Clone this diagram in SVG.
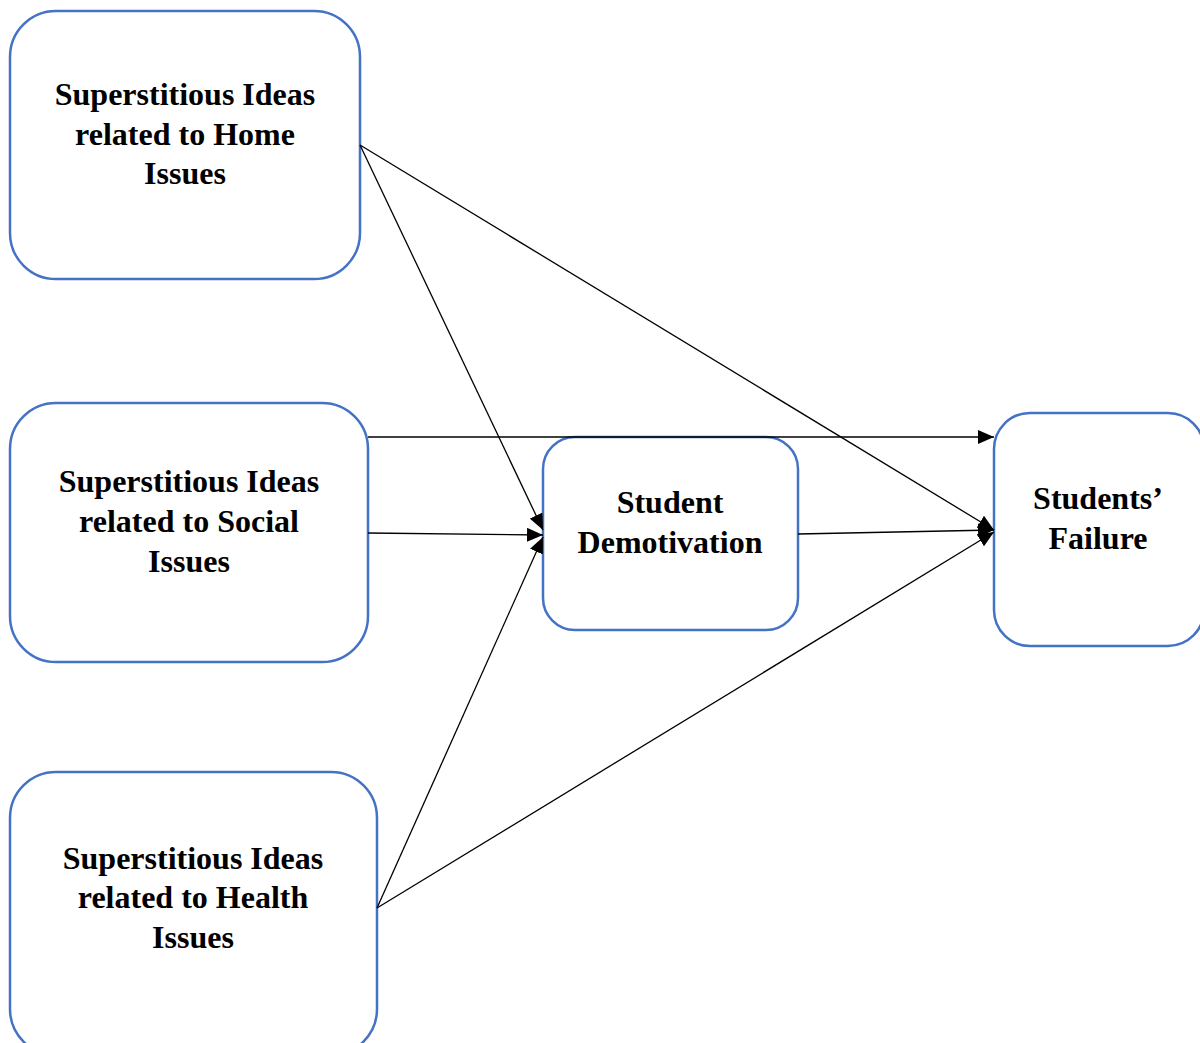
<svg xmlns="http://www.w3.org/2000/svg" width="1200" height="1043" viewBox="0 0 1200 1043">
<style>
.box{fill:#fff;stroke:#4472C4;stroke-width:2.5}
.t{font-family:"Liberation Serif","Times New Roman",serif;font-weight:bold;font-size:32px;fill:#000;text-anchor:middle}
.c{stroke:#000;stroke-width:1.3;fill:none;marker-end:url(#ah)}
</style>
<defs>
<marker id="ah" markerUnits="userSpaceOnUse" markerWidth="18" markerHeight="14" refX="16" refY="7" orient="auto">
<path d="M0,0 L16,7 L0,14 Z" fill="#000"/>
</marker>
</defs>
<rect width="1200" height="1043" fill="#fff"/>
<g id="home">
<rect class="box" x="10" y="11" width="350" height="268" rx="46"/>
<text class="t" x="185" y="105">Superstitious Ideas</text>
<text class="t" x="185" y="145">related to Home</text>
<text class="t" x="185" y="184">Issues</text>
</g>
<g id="social">
<rect class="box" x="10" y="403" width="358" height="259" rx="46"/>
<text class="t" x="189" y="492">Superstitious Ideas</text>
<text class="t" x="189" y="532">related to Social</text>
<text class="t" x="189" y="572">Issues</text>
</g>
<g id="health">
<rect class="box" x="10" y="772" width="367" height="283" rx="46"/>
<text class="t" x="193" y="869">Superstitious Ideas</text>
<text class="t" x="193" y="908">related to Health</text>
<text class="t" x="193" y="948">Issues</text>
</g>
<g id="demotivation">
<rect class="box" x="543" y="437" width="255" height="193" rx="32"/>
<text class="t" x="670" y="513">Student</text>
<text class="t" x="670" y="553">Demotivation</text>
</g>
<g id="failure">
<rect class="box" x="994" y="413" width="210" height="233" rx="36"/>
<text class="t" x="1098" y="509">Students’</text>
<text class="t" x="1098" y="549">Failure</text>
</g>
<g id="connectors">
<line class="c" x1="360" y1="145" x2="543" y2="530"/>
<line class="c" x1="360" y1="145" x2="994" y2="530"/>
<line class="c" x1="368" y1="437" x2="994" y2="437"/>
<line class="c" x1="368" y1="533" x2="543" y2="535"/>
<line class="c" x1="798" y1="534" x2="994" y2="530"/>
<line class="c" x1="377" y1="908" x2="543" y2="537"/>
<line class="c" x1="377" y1="908" x2="994" y2="532"/>
</g>
</svg>
